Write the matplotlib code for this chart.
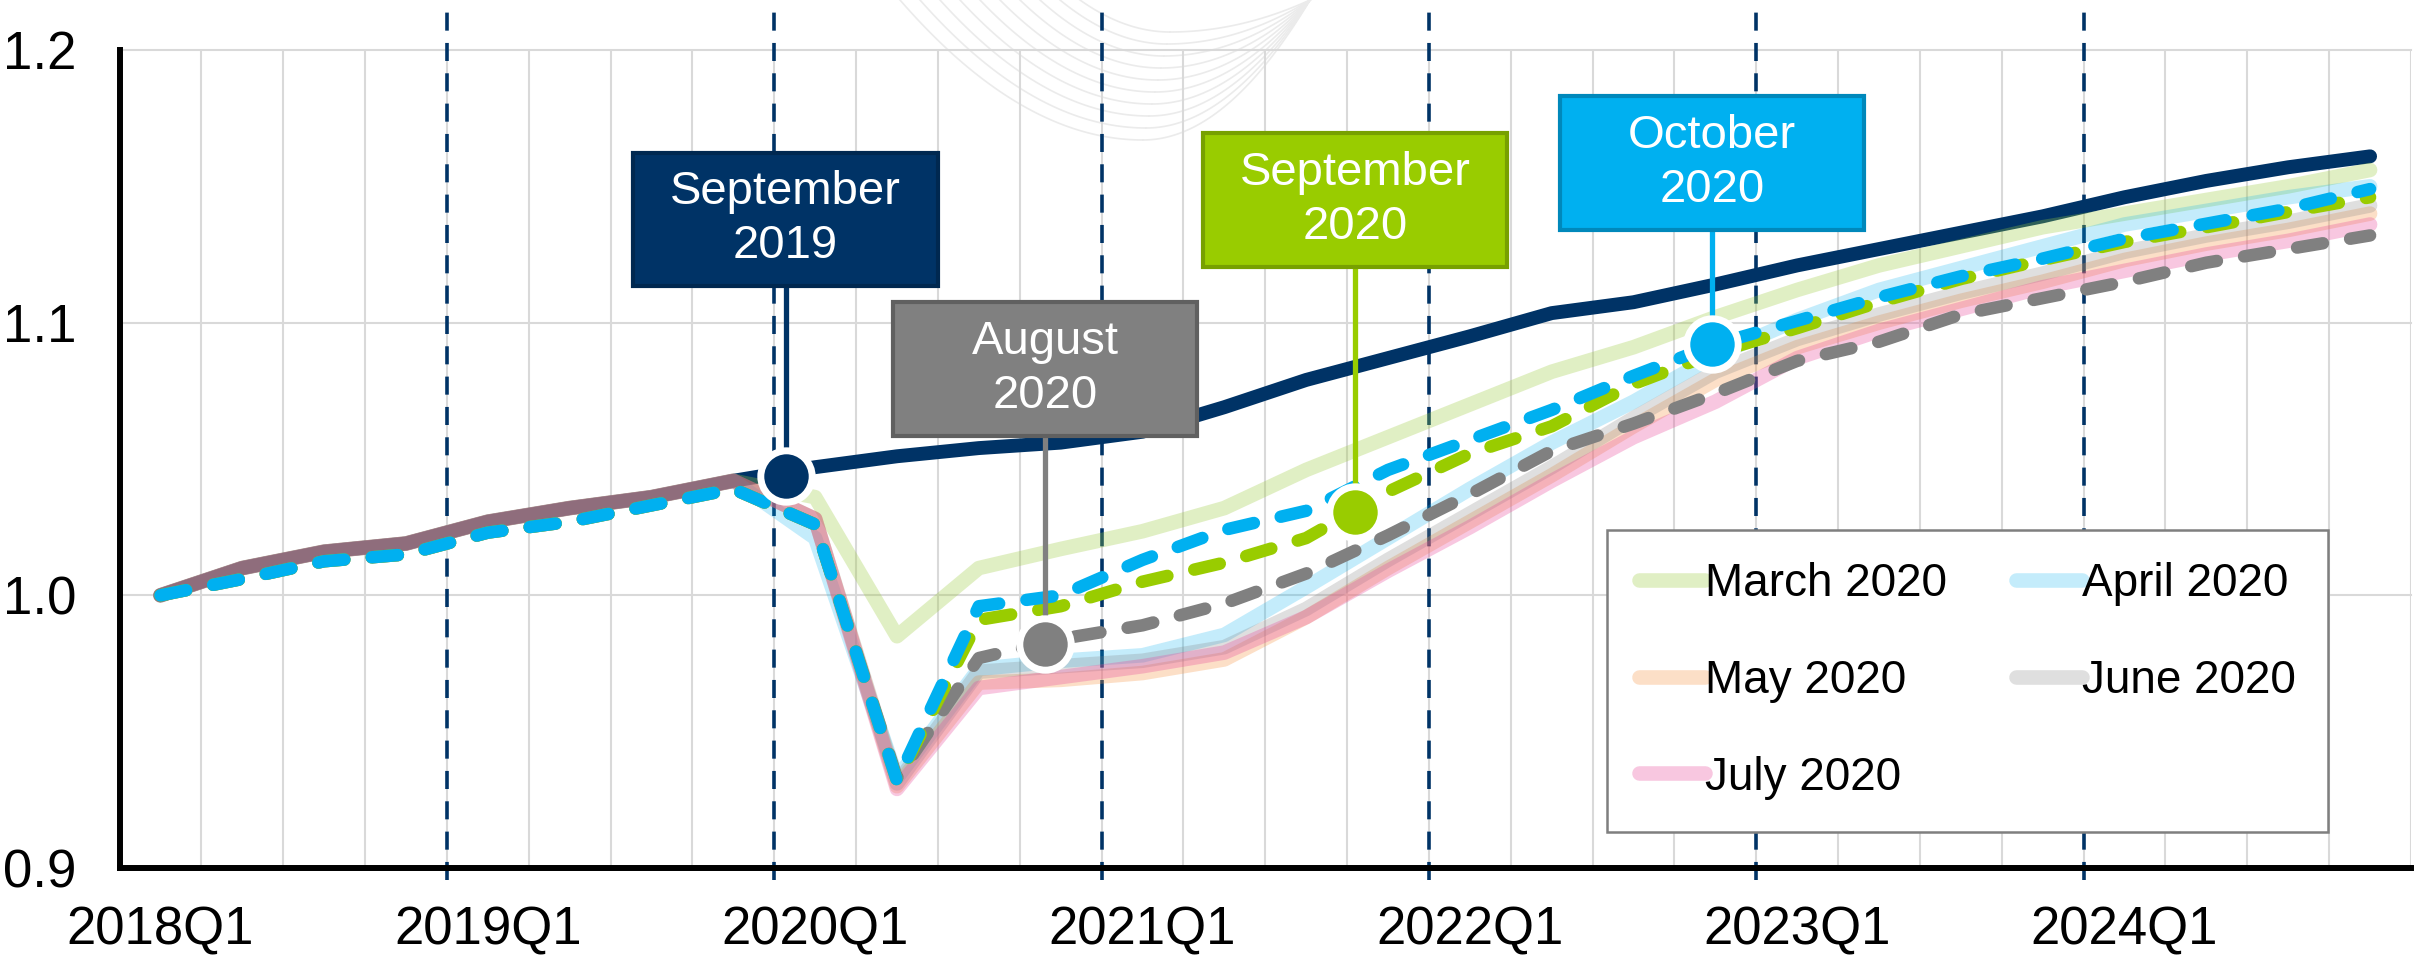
import matplotlib
matplotlib.use('Agg')
import matplotlib.pyplot as plt
from matplotlib.patches import Rectangle
import numpy as np

# Quarter categories
quarters = ['2018Q1', '2018Q2', '2018Q3', '2018Q4', '2019Q1', '2019Q2', '2019Q3', '2019Q4',
            '2020Q1', '2020Q2', '2020Q3', '2020Q4', '2021Q1', '2021Q2', '2021Q3', '2021Q4',
            '2022Q1', '2022Q2', '2022Q3', '2022Q4', '2023Q1', '2023Q2', '2023Q3', '2023Q4',
            '2024Q1', '2024Q2', '2024Q3', '2024Q4']

# history before / after the July 2020 revision
old_hist = [1.000, 1.010, 1.016, 1.019, 1.027, 1.032, 1.036, 1.042]
new_hist = [1.000, 1.006, 1.0125, 1.015, 1.023, 1.027, 1.033, 1.039]

# forecast vintages (level, 2018Q1 = 1)
sep2019 = old_hist + [1.047, 1.051, 1.054, 1.056, 1.060, 1.069, 1.079, 1.087, 1.095, 1.1035,
                      1.1075, 1.114, 1.121, 1.127, 1.133, 1.139, 1.146, 1.152, 1.157, 1.161]
mar2020 = old_hist + [1.036, 0.985, 1.010, 1.017, 1.0235, 1.032, 1.046, 1.058, 1.070, 1.082,
                      1.091, 1.102, 1.112, 1.121, 1.128, 1.135, 1.140, 1.145, 1.150, 1.156]
apr2020 = old_hist + [1.021, 0.933, 0.973, 0.976, 0.978, 0.9855, 1.003, 1.021, 1.039, 1.056,
                      1.071, 1.088, 1.101, 1.112, 1.120, 1.128, 1.136, 1.141, 1.146, 1.150]
may2020 = old_hist + [1.028, 0.930, 0.968, 0.969, 0.9715, 0.9765, 0.992, 1.010, 1.027, 1.044,
                      1.062, 1.079, 1.091, 1.100, 1.108, 1.115, 1.123, 1.129, 1.134, 1.140]
jun2020 = old_hist + [1.028, 0.931, 0.972, 0.974, 0.976, 0.981, 0.995, 1.013, 1.030, 1.047,
                      1.065, 1.082, 1.094, 1.103, 1.111, 1.118, 1.126, 1.132, 1.137, 1.143]
jul2020 = old_hist + [1.028, 0.929, 0.966, 0.970, 0.974, 0.979, 0.992, 1.009, 1.025, 1.042,
                      1.058, 1.071, 1.087, 1.097, 1.105, 1.113, 1.119, 1.125, 1.130, 1.136]
aug2020 = new_hist + [1.026, 0.933, 0.977, 0.984, 0.989, 0.997, 1.008, 1.022, 1.037, 1.053,
                      1.063, 1.074, 1.086, 1.093, 1.103, 1.109, 1.115, 1.122, 1.127, 1.132]
sep2020 = new_hist + [1.026, 0.932, 0.991, 0.996, 1.005, 1.012, 1.021, 1.038, 1.052, 1.062,
                      1.0775, 1.089, 1.098, 1.1075, 1.116, 1.123, 1.1296, 1.135, 1.1406, 1.146]
oct2020 = new_hist + [1.026, 0.932, 0.996, 1.000, 1.013, 1.024, 1.031, 1.046, 1.057, 1.068,
                      1.0805, 1.092, 1.1007, 1.1093, 1.117, 1.1235, 1.1308, 1.1363, 1.1418, 1.149]

# callouts
callout_labels = ['September\n2019', 'August\n2020', 'September\n2020', 'October\n2020']
callout_x = [7.64, 10.81, 14.60, 18.96]
callout_y = [1.0437, 0.9823, 1.0305, 1.0922]
callout_box_y = [1.1379, 1.0831, 1.1449, 1.1586]
callout_colors = ['#003366', '#808080', '#99CC00', '#00B0F0']
callout_edges = ['#002850', '#606060', '#77A000', '#0088BB']

plt.rcParams['font.family'] = ['Liberation Sans', 'DejaVu Sans']

fig = plt.figure(figsize=(24.22, 9.56), dpi=100)

# faint decorative arcs in the background
bg = fig.add_axes([0, 0, 1, 1], zorder=-1)
bg.set_xlim(0, 2422)
bg.set_ylim(956, 0)
bg.axis('off')
for k in range(10):
    d = 140 - 12 * k
    xm = 1143 + 3 * k
    xl = 900 + 20 * k
    xs = np.linspace(xl - 30, xm, 60)
    bg.plot(xs, d * (1 - ((xs - xm) / (xm - xl)) ** 2), color='#EBEBEB', lw=1.2)
    xs = np.linspace(xm, 1330, 60)
    bg.plot(xs, d * (1 - ((xs - xm) / (1310 - xm)) ** 2), color='#EBEBEB', lw=1.2)

ax = fig.add_axes([0.04934, 0.09205, 0.94612, 0.85565])
ax.set_facecolor('none')
x = np.arange(len(quarters))
ax.set_xlim(-0.5, len(quarters) - 0.5)
ax.set_ylim(0.9, 1.2)

# grid
for b in np.arange(0.5, len(quarters)):
    ax.axvline(b, color='#D9D9D9', lw=1.5, zorder=0)
for v in [1.0, 1.1, 1.2]:
    ax.axhline(v, color='#D9D9D9', lw=1.5, zorder=0, clip_on=False)

# dashed lines at the start of each year
year_idx = [i for i, q in enumerate(quarters) if q.endswith('Q1')]
for i in year_idx[1:]:
    ax.plot([i - 0.5, i - 0.5], [0.8955, 1.2145], color='#003366', lw=2.6,
            dashes=(5, 3.4), clip_on=False, zorder=1)

ax.plot(x, sep2019, color='#003366', lw=10, solid_capstyle='round', zorder=2)

faint = [('March 2020', mar2020, '#9BCB3C', 0.3),
         ('April 2020', apr2020, '#00B0F0', 0.23),
         ('May 2020', may2020, '#F79646', 0.3),
         ('June 2020', jun2020, '#808080', 0.25),
         ('July 2020', jul2020, '#E8489A', 0.3)]
handles = {}
for name, vals, col, a in faint:
    ln, = ax.plot(x, vals, color=col, alpha=a, lw=10.5, solid_capstyle='round',
                  solid_joinstyle='round', label=name, zorder=3)
    handles[name] = ln

for vals, col, z in [(aug2020, '#808080', 4), (sep2020, '#99CC00', 5), (oct2020, '#00B0F0', 6)]:
    ax.plot(x, vals, color=col, lw=9, dashes=(2.1, 2.2), dash_capstyle='round',
            dash_joinstyle='round', zorder=z)

# callouts: box, stem and marker
bw, bh = 3.72, 0.049
for lab, mx, my, by, col, ec in zip(callout_labels, callout_x, callout_y, callout_box_y,
                                    callout_colors, callout_edges):
    ax.plot([mx, mx], [by - bh / 2, my], color=col, lw=3.8, zorder=8)
    ax.plot(mx, my, 'o', ms=37, mfc=col, mec='white', mew=5, zorder=9)
    ax.add_patch(Rectangle((mx - bw / 2, by - bh / 2), bw, bh, facecolor=col, edgecolor=ec,
                           lw=3, zorder=10, clip_on=False))
    ax.text(mx, by, lab, ha='center', va='center', color='white', fontsize=34,
            family=['Liberation Sans Narrow', 'Liberation Sans', 'DejaVu Sans'],
            linespacing=1.3, zorder=11)

# legend, filled row by row
order = ['March 2020', 'May 2020', 'July 2020', 'April 2020', 'June 2020']
leg = ax.legend(handles=[handles[n] for n in order], loc='upper left',
                bbox_to_anchor=(1607 / 2422, 1 - 530 / 956), bbox_transform=fig.transFigure,
                ncol=2, fontsize=33, frameon=True, fancybox=False, edgecolor='#7F7F7F',
                framealpha=1, handlelength=1.44, handletextpad=0.0, columnspacing=1.5,
                labelspacing=1.15, borderpad=0.7, borderaxespad=0)
leg.get_frame().set_linewidth(1.8)
leg.set_zorder(20)

ax.set_yticks([0.9, 1.0, 1.1, 1.2])
ax.set_yticklabels(['0.9', '1.0', '1.1', '1.2'])
ax.set_xticks(year_idx)
ax.set_xticklabels([quarters[i] for i in year_idx])
ax.tick_params(axis='y', length=0, pad=31, labelsize=38)
ax.tick_params(axis='x', length=0, pad=27, labelsize=38)

for s in ['top', 'right']:
    ax.spines[s].set_visible(False)
for s in ['left', 'bottom']:
    ax.spines[s].set_linewidth(4.3)
    ax.spines[s].set_color('black')
    ax.spines[s].set_zorder(12)

fig.savefig('out.png', dpi=100)
